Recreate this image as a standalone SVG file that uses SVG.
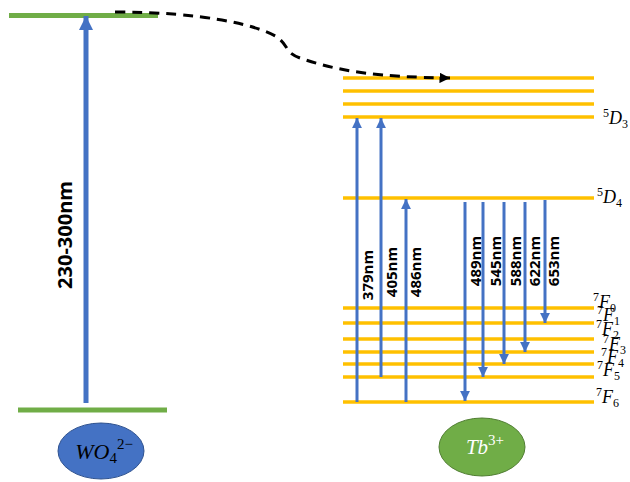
<svg xmlns="http://www.w3.org/2000/svg" width="630" height="482" viewBox="0 0 630 482">
<style>
.g{stroke:#70AD47;stroke-width:5;fill:none}
.y{stroke:#FFC000;stroke-width:3.5;fill:none}
.b{stroke:#4472C4;stroke-width:3;fill:none}
.bm{stroke:#4472C4;stroke-width:5;fill:none}
.lb{font-family:"Open Sans","Liberation Sans",sans-serif;font-weight:bold;font-size:15px;fill:#000;text-anchor:middle}
.lv{font-family:"Liberation Serif",serif;font-style:italic;font-size:18px;fill:#000}
.s{font-size:12px;font-style:normal}
.el{font-family:"Liberation Serif",serif;font-style:italic;font-size:22px;text-anchor:middle}
.es{font-size:15px;font-style:normal}
</style>
<defs>
<marker id="ab" viewBox="0 0 10 10" refX="10" refY="5" markerWidth="3.3" markerHeight="3.3" orient="auto" markerUnits="strokeWidth"><path d="M0,0L10,5L0,10z" fill="#4472C4"/></marker>
<marker id="abm" viewBox="0 0 10 10" refX="10" refY="5" markerWidth="2.8" markerHeight="2.8" orient="auto" markerUnits="strokeWidth"><path d="M0,0L10,5L0,10z" fill="#4472C4"/></marker>
<marker id="ak" viewBox="0 0 10 10" refX="10" refY="5" markerWidth="3.5" markerHeight="3.5" orient="auto" markerUnits="strokeWidth"><path d="M0,0L10,5L0,10z" fill="#000"/></marker>
</defs>

<g id="wo4-levels">
<line class="g" x1="9" y1="15.5" x2="158" y2="15.5"/>
<line class="g" x1="18" y1="410" x2="167" y2="410"/>
</g>

<g id="tb-levels">
<line class="y" x1="343" y1="78" x2="594" y2="78"/>
<line class="y" x1="343" y1="91" x2="594" y2="91"/>
<line class="y" x1="343" y1="104" x2="594" y2="104"/>
<line class="y" x1="343" y1="117" x2="594" y2="117"/>
<line class="y" x1="343" y1="198" x2="594" y2="198"/>
<line class="y" x1="343" y1="308" x2="594" y2="308"/>
<line class="y" x1="343" y1="323" x2="594" y2="323"/>
<line class="y" x1="343" y1="339" x2="594" y2="339"/>
<line class="y" x1="343" y1="352" x2="594" y2="352"/>
<line class="y" x1="343" y1="364" x2="594" y2="364"/>
<line class="y" x1="343" y1="377" x2="594" y2="377"/>
<line class="y" x1="343" y1="402" x2="594" y2="402"/>
</g>

<g id="level-labels">
<text class="lv" x="603" y="124"><tspan class="s" dy="-7">5</tspan><tspan dy="7">D</tspan><tspan class="s" dy="4">3</tspan></text>
<text class="lv" x="597" y="203"><tspan class="s" dy="-7">5</tspan><tspan dy="7">D</tspan><tspan class="s" dy="4">4</tspan></text>
<text class="lv" x="593" y="308"><tspan class="s" dy="-7">7</tspan><tspan dy="7">F</tspan><tspan class="s" dy="4">0</tspan></text>
<text class="lv" x="597" y="321"><tspan class="s" dy="-7">7</tspan><tspan dy="7">F</tspan><tspan class="s" dy="4">1</tspan></text>
<text class="lv" x="596" y="335"><tspan class="s" dy="-7">7</tspan><tspan dy="7">F</tspan><tspan class="s" dy="4">2</tspan></text>
<text class="lv" x="603" y="350"><tspan class="s" dy="-7">7</tspan><tspan dy="7">F</tspan><tspan class="s" dy="4">3</tspan></text>
<text class="lv" x="601" y="363"><tspan class="s" dy="-7">7</tspan><tspan dy="7">F</tspan><tspan class="s" dy="4">4</tspan></text>
<text class="lv" x="597" y="376"><tspan class="s" dy="-7">7</tspan><tspan dy="7">F</tspan><tspan class="s" dy="4">5</tspan></text>
<text class="lv" x="596" y="403"><tspan class="s" dy="-7">7</tspan><tspan dy="7">F</tspan><tspan class="s" dy="4">6</tspan></text>
</g>

<g id="connectors">
<line class="bm" x1="86" y1="403" x2="86" y2="16" marker-end="url(#abm)"/>
<path d="M115,12 C200,12 255,24 277,37 C290,47 284,52 300,58 C340,72 380,77 450,78" fill="none" stroke="#000" stroke-width="3" stroke-dasharray="10,7" marker-end="url(#ak)"/>
<line class="b" x1="357" y1="402" x2="357" y2="118" marker-end="url(#ab)"/>
<line class="b" x1="381" y1="377" x2="381" y2="118" marker-end="url(#ab)"/>
<line class="b" x1="406" y1="402" x2="406" y2="199" marker-end="url(#ab)"/>
<line class="b" x1="465" y1="202" x2="465" y2="401" marker-end="url(#ab)"/>
<line class="b" x1="483" y1="202" x2="483" y2="377" marker-end="url(#ab)"/>
<line class="b" x1="504" y1="202" x2="504" y2="364" marker-end="url(#ab)"/>
<line class="b" x1="525" y1="202" x2="525" y2="352" marker-end="url(#ab)"/>
<line class="b" x1="545" y1="200" x2="545" y2="323" marker-end="url(#ab)"/>
</g>

<g id="arrow-labels">
<text class="lb" style="font-size:20px" transform="translate(72,235) rotate(-90)">230-300nm</text>
<text class="lb" transform="translate(373,275) rotate(-90)">379nm</text>
<text class="lb" transform="translate(397,272) rotate(-90)">405nm</text>
<text class="lb" transform="translate(421,272) rotate(-90)">486nm</text>
<text class="lb" transform="translate(481,261) rotate(-90)">489nm</text>
<text class="lb" transform="translate(501,261) rotate(-90)">545nm</text>
<text class="lb" transform="translate(521,261) rotate(-90)">588nm</text>
<text class="lb" transform="translate(540,261) rotate(-90)">622nm</text>
<text class="lb" transform="translate(559,261) rotate(-90)">653nm</text>
</g>

<g id="wo4-node">
<ellipse cx="101" cy="451" rx="43" ry="28" fill="#4472C4" stroke="#2F528F" stroke-width="1"/>
<text class="el" x="104" y="459" fill="#000">WO<tspan class="es" dy="4">4</tspan><tspan class="es" dy="-14">2−</tspan></text>
</g>

<g id="tb-node">
<ellipse cx="482" cy="447" rx="43" ry="29" fill="#70AD47" stroke="#507E32" stroke-width="1"/>
<text class="el" x="485" y="454" fill="#fff" style="font-size:21px">Tb<tspan class="es" dy="-9">3+</tspan></text>
</g>
</svg>
